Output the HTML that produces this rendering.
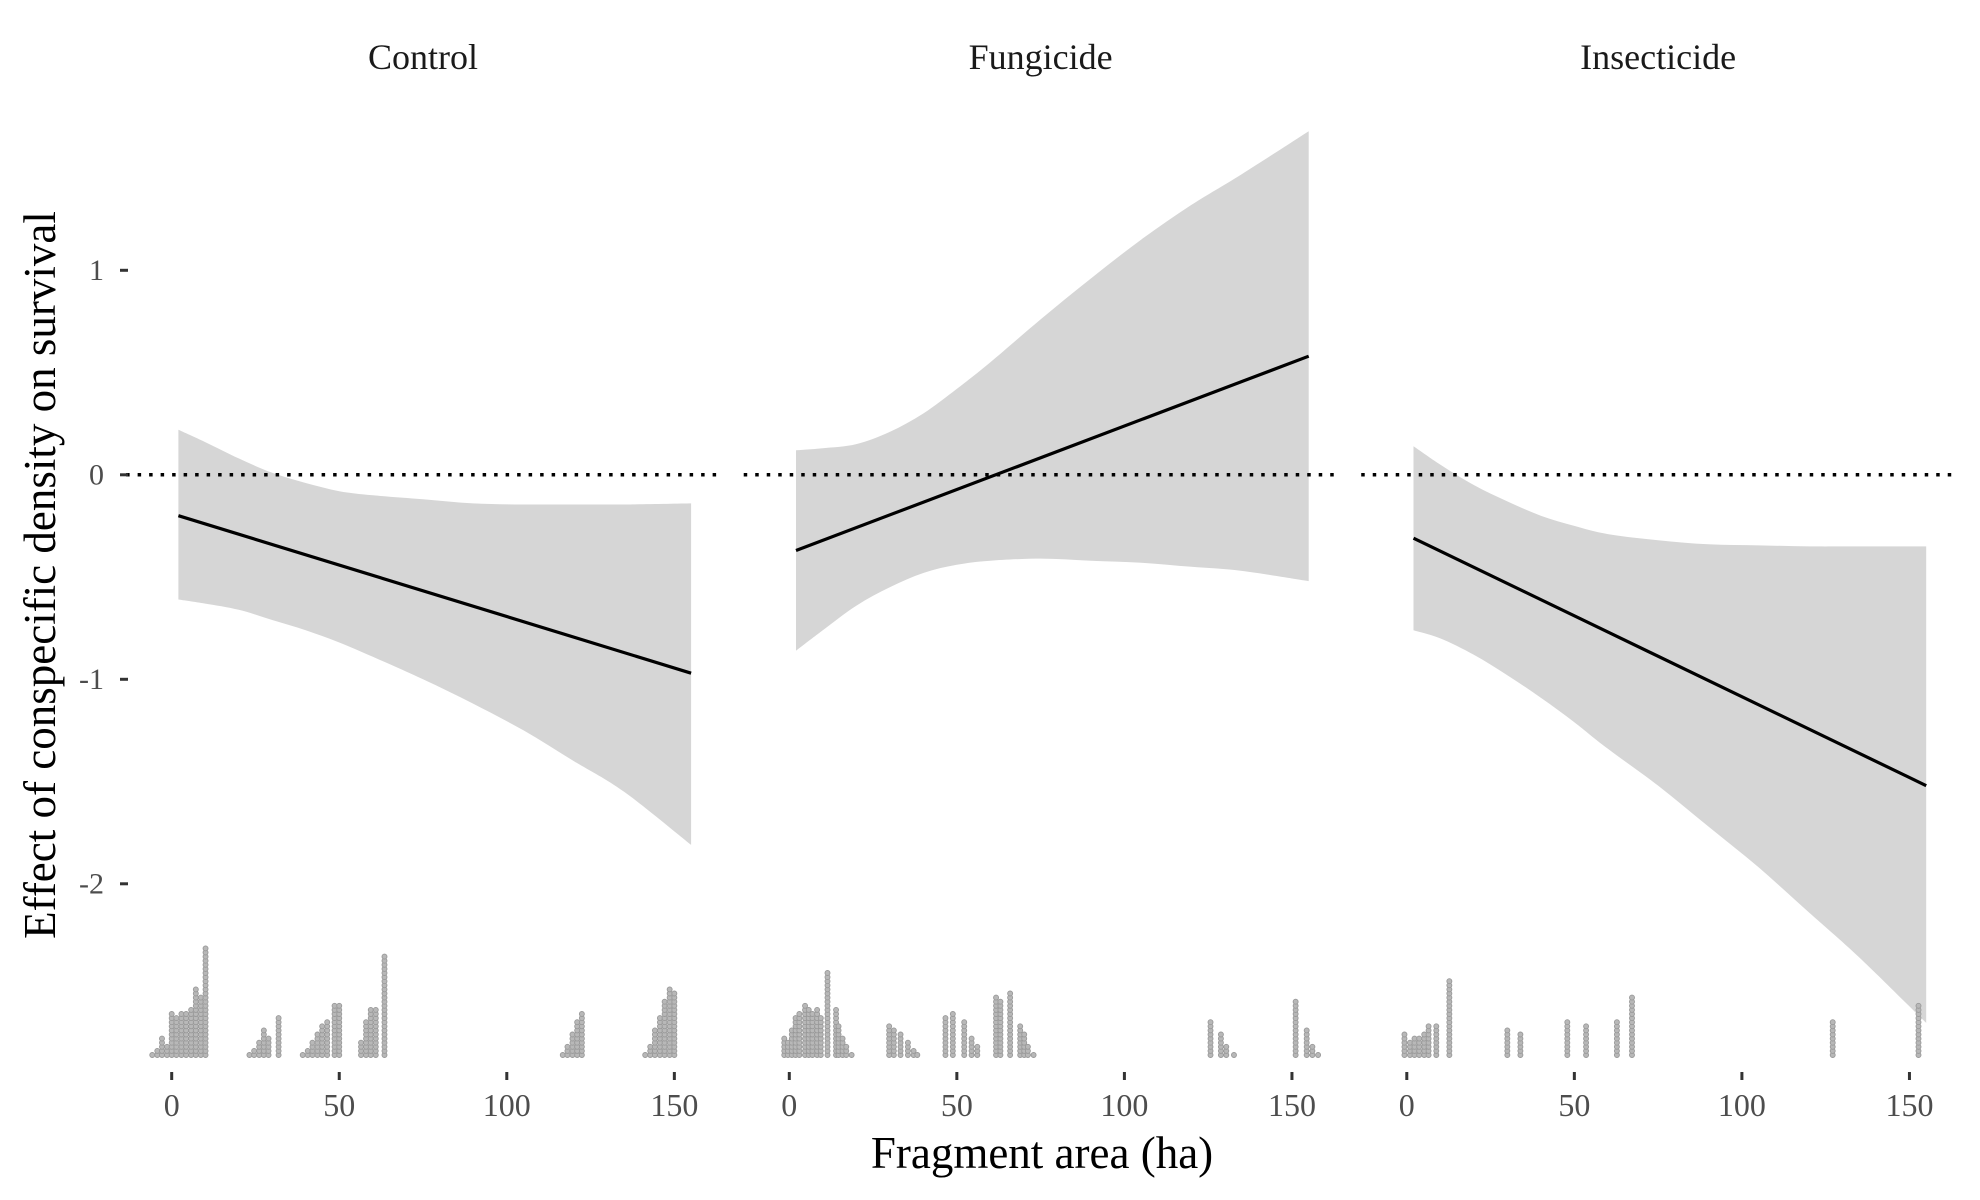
<!DOCTYPE html>
<html><head><meta charset="utf-8"><style>
body{margin:0;background:#fff}
svg{display:block;font-family:"Liberation Serif",serif}
</style></head><body>
<svg id="chart" width="1980" height="1200" viewBox="0 0 1980 1200">
<g id="panels"></g>
<text x="40" y="575" transform="rotate(-90 40 575)" text-anchor="middle" dominant-baseline="central" font-size="45" fill="#000">Effect of conspecific density on survival</text>
<text x="1042" y="1168" text-anchor="middle" font-size="45" fill="#000">Fragment area (ha)</text>
</svg>
<script>
const panelNames = ["Control","Fungicide","Insecticide"];
const panelZeroPx = [171.7, 789.3, 1406.8];
const xTicks = [0,50,100,150];
const yTicks = [1,0,-1,-2];
const lineX = [2,155];
const lineControl = [-0.2,-0.97];
const lineFungicide = [-0.37,0.58];
const lineInsecticide = [-0.31,-1.52];
const ribX = [2,10,20,30,40,50,60,75,90,105,120,135,155];
const upperControl = [0.22,0.16,0.08,0.01,-0.04,-0.08,-0.1,-0.12,-0.14,-0.145,-0.145,-0.145,-0.14];
const lowerControl = [-0.61,-0.63,-0.66,-0.71,-0.76,-0.82,-0.89,-1.0,-1.12,-1.25,-1.4,-1.55,-1.81];
const upperFungicide = [0.12,0.13,0.15,0.21,0.3,0.42,0.55,0.76,0.96,1.15,1.32,1.47,1.68];
const lowerFungicide = [-0.86,-0.76,-0.64,-0.55,-0.48,-0.44,-0.42,-0.41,-0.42,-0.43,-0.45,-0.47,-0.52];
const upperInsecticide = [0.14,0.05,-0.05,-0.13,-0.2,-0.25,-0.29,-0.32,-0.34,-0.345,-0.35,-0.35,-0.35];
const lowerInsecticide = [-0.76,-0.8,-0.88,-0.98,-1.09,-1.21,-1.34,-1.52,-1.72,-1.92,-2.14,-2.36,-2.68];
const dotsControl = [[-5.8,1],[-4.3,2],[-2.9,5],[-1.4,3],[0,11],[1.4,10],[2.9,11],[4.3,11],[5.8,12],[7.2,17],[8.7,15],[10.1,27],
 [23.2,1],[24.6,2],[26.1,4],[27.5,7],[28.9,5],[31.9,10],[39.1,1],[40.6,2],[42,4],[43.5,6],[44.9,8],[46.4,9],[48.6,13],[50,13],
 [56.5,4],[58,9],[59.4,12],[60.9,12],[63.5,25],[116.7,1],[118.1,3],[119.6,6],[121,9],[122.4,11],[141.3,1],[142.8,3],[144.2,7],[145.7,10],[147.1,14],[148.6,17],[150,16]];
const dotsFungicide = [[-1.5,5],[-0.4,4],[0.76,7],[1.87,10],[3.0,11],[4.7,13],[5.8,12],[6.9,11],[8.3,12],[9.4,10],[11.4,21],[13.95,12],[14.7,8],[15.9,5],[17.0,3],[18.6,1],
 [29.8,8],[31.2,7],[33.2,6],[35.4,4],[37.1,2],[38.2,1],[46.6,10],[48.8,11],[52.2,9],[54.4,5],[56.1,3],
 [61.7,15],[63.0,14],[65.9,16],[68.9,8],[70.1,6],[71.2,3],[72.9,1],[125.7,9],[128.8,6],[130.4,3],[132.7,1],[151.1,14],[154.4,7],[156.1,3],[157.8,1]];
const dotsInsecticide = [[-0.7,6],[0.95,4],[2.3,5],[3.7,5],[5.2,6],[6.5,8],[8.8,8],[12.7,19],[30.0,7],[33.9,6],[47.9,9],[53.5,8],[62.7,9],[67.2,15],[127.1,9],[152.7,13]];

const lines=[lineControl,lineFungicide,lineInsecticide];
const uppers=[upperControl,upperFungicide,upperInsecticide];
const lowers=[lowerControl,lowerFungicide,lowerInsecticide];
const dots=[dotsControl,dotsFungicide,dotsInsecticide];
const NS="http://www.w3.org/2000/svg";
const yS=v=>474.8-v*204.5;
const pxPerHa=3.351;
const baseY=1055, step=4.1;
const root=document.getElementById('panels');
function mk(t,a,p){const e=document.createElementNS(NS,t);for(const k in a)e.setAttribute(k,a[k]);p.appendChild(e);return e;}
function smooth(pts,start){
  let d=start?'M'+pts[0][0].toFixed(1)+','+pts[0][1].toFixed(1):'L'+pts[0][0].toFixed(1)+','+pts[0][1].toFixed(1);
  for(let k=0;k<pts.length-1;k++){
    const p0=pts[Math.max(0,k-1)],p1=pts[k],p2=pts[k+1],p3=pts[Math.min(pts.length-1,k+2)];
    const c1=[p1[0]+(p2[0]-p0[0])/6,p1[1]+(p2[1]-p0[1])/6];
    const c2=[p2[0]-(p3[0]-p1[0])/6,p2[1]-(p3[1]-p1[1])/6];
    d+='C'+c1.map(v=>v.toFixed(1))+' '+c2.map(v=>v.toFixed(1))+' '+p2.map(v=>v.toFixed(1));
  }
  return d;
}
panelNames.forEach((name,i)=>{
  const xS=h=>panelZeroPx[i]+h*pxPerHa;
  const g=mk('g',{},root);
  
  
  const st=mk('text',{x:xS(75),y:69,'text-anchor':'middle','font-size':36,fill:'#1a1a1a'},g);
  st.textContent=name;
  
  
  const up=ribX.map((h,k)=>[xS(h),yS(uppers[i][k])]);
  const lo=ribX.map((h,k)=>[xS(h),yS(lowers[i][k])]).reverse();
  const d=smooth(up,true)+smooth(lo,false)+'Z';
  const rib=mk('path',{d:d,fill:'#d6d6d6'},g);
  
  
  const zl=mk('line',{x1:xS(-13.6),x2:xS(163.6),y1:yS(0),y2:yS(0),stroke:'#000','stroke-width':3.5,'stroke-dasharray':'3.5 8'},g);
  
  
  const ln=mk('line',{x1:xS(lineX[0]),x2:xS(lineX[1]),y1:yS(lines[i][0]),y2:yS(lines[i][1]),stroke:'#000','stroke-width':3.2},g);
  
  
  dots[i].forEach(([h,n])=>{
    for(let j=0;j<n;j++){
      const c=mk('circle',{cx:xS(h),cy:baseY-j*step,r:2.5,fill:'#b8b8b8',stroke:'#999','stroke-width':0.9},g);
      
      
    }
  });
  xTicks.forEach(t=>{
    const tk=mk('line',{x1:xS(t),x2:xS(t),y1:1072,y2:1080,stroke:'#333','stroke-width':3},g);
    
    
    const tl=mk('text',{x:xS(t),y:1116,'text-anchor':'middle','font-size':32,fill:'#4d4d4d'},g);
    tl.textContent=t;
    
    
  });
});
yTicks.forEach(t=>{
  const tk=mk('line',{x1:120,x2:128,y1:yS(t),y2:yS(t),stroke:'#333','stroke-width':3},root);
  
  
  const tl=mk('text',{x:104,y:yS(t),'text-anchor':'end','dominant-baseline':'central','font-size':30,fill:'#4d4d4d'},root);
  tl.textContent=t;
  
  
});
</script>
</body></html>
